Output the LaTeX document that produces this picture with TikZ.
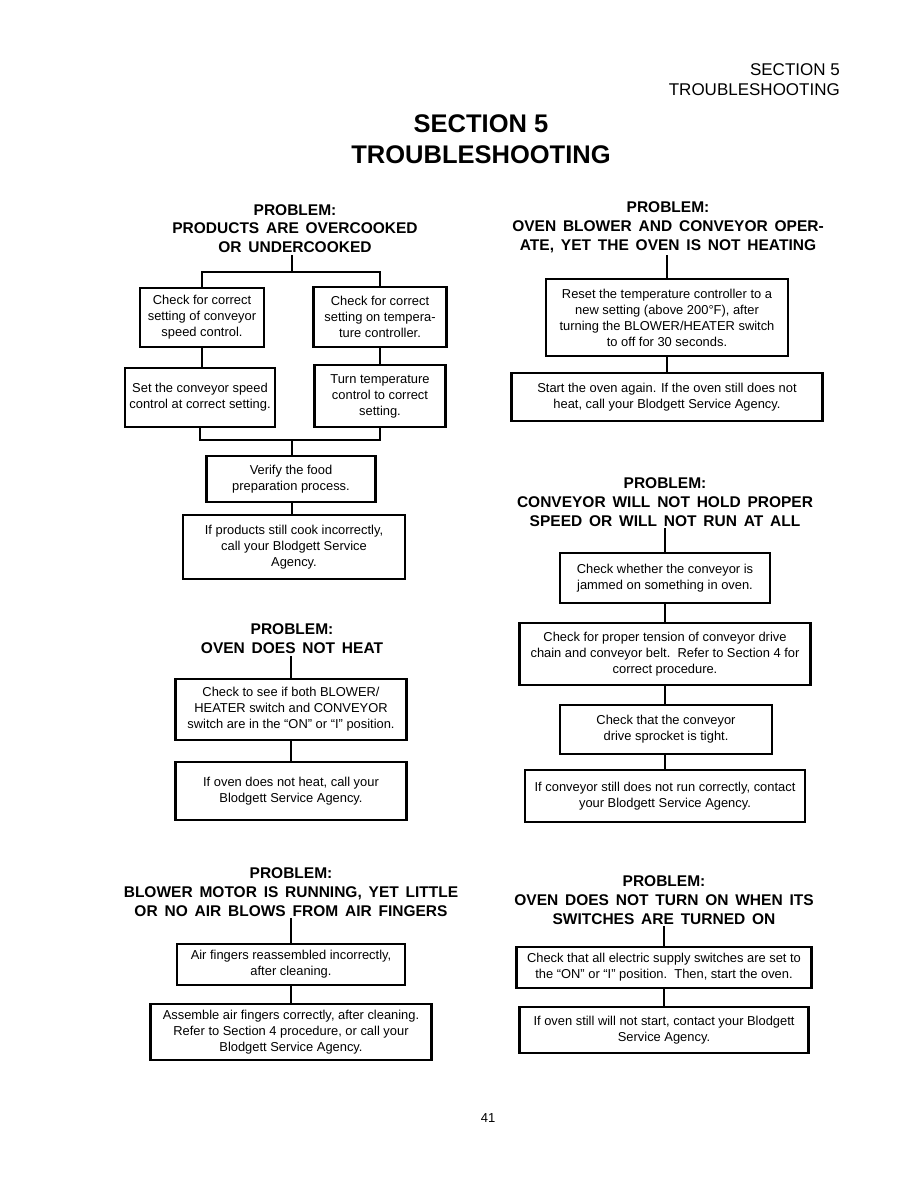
\documentclass[tikz,border=0pt]{standalone}
\usepackage{fontspec}
\setmainfont{Liberation Sans}

\newcommand{\boxfont}{\fontsize{12.9}{16}\selectfont}
\newcommand{\headfont}{\fontsize{15.5}{18.8}\selectfont\bfseries\spaceskip=0.44em plus 0.1em}

\tikzset{
  checkbox/.style={draw, line width=2.4pt, align=center, inner sep=2pt, font=\boxfont},
  problem/.style={align=center, inner sep=2pt, font=\headfont},
  link/.style={line width=1.7pt}
}

\begin{document}
\begin{tikzpicture}[x=1pt, y=-1pt]
    \useasboundingbox (0,0) rectangle (918,1188);

    % Page header and title
    \node[align=right, anchor=east, inner sep=0pt, font=\fontsize{17}{20}\selectfont] (pagehead) at (840,80) {SECTION 5\\TROUBLESHOOTING};
    \node[align=center, font=\fontsize{25.5}{31}\selectfont\bfseries] (title) at (481,139.5) {SECTION 5\\TROUBLESHOOTING};
    \node[font=\fontsize{13}{16}\selectfont] (pageno) at (488,1118) {41};

    % Products over/undercooked
    \node[problem] (p1head) at (295,228.5) {PROBLEM:\\PRODUCTS ARE OVERCOOKED\\OR UNDERCOOKED};
    \node[checkbox, minimum width=124pt, minimum height=59pt] (p1a) at (202,317.5) {Check for correct\\setting of conveyor\\speed control.};
    \node[checkbox, minimum width=133pt, minimum height=60pt] (p1b) at (380,317) {Check for correct\\setting on tempera-\\ture controller.};
    \node[checkbox, minimum width=150pt, minimum height=59pt] (p1c) at (200,397.5) {Set the conveyor speed\\control at correct setting.};
    \node[checkbox, minimum width=131pt, minimum height=62pt] (p1d) at (380,396) {Turn temperature\\control to correct\\setting.};
    \node[checkbox, minimum width=169pt, minimum height=46pt] (p1e) at (291,479) {Verify the food\\preparation process.};
    \node[checkbox, minimum width=222pt, minimum height=64pt] (p1f) at (294,547) {If products still cook incorrectly,\\call your Blodgett Service\\Agency.};
    \coordinate (p1fork) at (292,272);
    \coordinate (p1join) at (292,440);
    \draw[link] (p1fork |- p1head.south) -- (p1fork);
    \draw[link] (p1a.north) |- (p1fork) -| (p1b.north);
    \draw[link] (p1a.south) -- (p1a.south |- p1c.north);
    \draw[link] (p1b.south) -- (p1b.south |- p1d.north);
    \draw[link] (p1c.south) |- (p1join) -| (p1d.south);
    \draw[link] (p1join) -- (p1join |- p1e.north);
    \draw[link] (p1join |- p1e.south) -- (p1join |- p1f.north);

    % Oven does not heat
    \node[problem] (p2head) at (292,638.5) {PROBLEM:\\OVEN DOES NOT HEAT};
    \node[checkbox, minimum width=231pt, minimum height=61pt] (p2a) at (291,709.5) {Check to see if both BLOWER/\\HEATER switch and CONVEYOR\\switch are in the ``ON'' or ``I'' position.};
    \node[checkbox, minimum width=231pt, minimum height=58pt] (p2b) at (291,791) {If oven does not heat, call your\\Blodgett Service Agency.};
    \draw[link] (p2a.north) -- (p2a.north |- p2head.south);
    \draw[link] (p2a.south) -- (p2a.south |- p2b.north);

    % Blower motor running, no air
    \node[problem] (p3head) at (291,892) {PROBLEM:\\BLOWER MOTOR IS RUNNING, YET LITTLE\\OR NO AIR BLOWS FROM AIR FINGERS};
    \node[checkbox, minimum width=228pt, minimum height=41pt] (p3a) at (291,964.5) {Air fingers reassembled incorrectly,\\after cleaning.};
    \node[checkbox, minimum width=281pt, minimum height=56pt] (p3b) at (291,1032) {Assemble air fingers correctly, after cleaning.\\Refer to Section 4 procedure, or call your\\Blodgett Service Agency.};
    \draw[link] (p3a.north) -- (p3a.north |- p3head.south);
    \draw[link] (p3a.south) -- (p3a.south |- p3b.north);

    % Blower and conveyor run, no heat
    \node[problem] (p4head) at (668,227.5) {PROBLEM:\\OVEN BLOWER AND CONVEYOR OPER-\\ATE, YET THE OVEN IS NOT HEATING};
    \node[checkbox, minimum width=242pt, minimum height=77pt] (p4a) at (667,317.5) {Reset the temperature controller to a\\new setting (above 200°F), after\\turning the BLOWER/HEATER switch\\to off for 30 seconds.};
    \node[checkbox, minimum width=311pt, minimum height=48pt] (p4b) at (667,397) {Start the oven again. If the oven still does not\\heat, call your Blodgett Service Agency.};
    \draw[link] (p4a.north) -- (p4a.north |- p4head.south);
    \draw[link] (p4a.south) -- (p4a.south |- p4b.north);

    % Conveyor speed
    \node[problem] (p5head) at (665,502) {PROBLEM:\\CONVEYOR WILL NOT HOLD PROPER\\SPEED OR WILL NOT RUN AT ALL};
    \node[checkbox, minimum width=210pt, minimum height=50pt] (p5a) at (665,578) {Check whether the conveyor is\\jammed on something in oven.};
    \node[checkbox, minimum width=291pt, minimum height=62pt] (p5b) at (665,654) {Check for proper tension of conveyor drive\\chain and conveyor belt.\ \ Refer to Section 4 for\\correct procedure.};
    \node[checkbox, minimum width=212pt, minimum height=49pt] (p5c) at (666,729.5) {Check that the conveyor\\drive sprocket is tight.};
    \node[checkbox, minimum width=280pt, minimum height=52pt] (p5d) at (665,796) {If conveyor still does not run correctly, contact\\your Blodgett Service Agency.};
    \draw[link] (p5a.north) -- (p5a.north |- p5head.south);
    \draw[link] (p5a.south) -- (p5a.south |- p5b.north);
    \draw[link] (p5a.south |- p5b.south) -- (p5a.south |- p5c.north);
    \draw[link] (p5a.south |- p5c.south) -- (p5a.south |- p5d.north);

    % Oven does not turn on
    \node[problem] (p6head) at (664,900) {PROBLEM:\\OVEN DOES NOT TURN ON WHEN ITS\\SWITCHES ARE TURNED ON};
    \node[checkbox, minimum width=295pt, minimum height=41pt] (p6a) at (664,967.5) {Check that all electric supply switches are set to\\the ``ON'' or ``I'' position.\ \ Then, start the oven.};
    \node[checkbox, minimum width=289pt, minimum height=46pt] (p6b) at (664,1030) {If oven still will not start, contact your Blodgett\\Service Agency.};
    \draw[link] (p6a.north) -- (p6a.north |- p6head.south);
    \draw[link] (p6a.south) -- (p6a.south |- p6b.north);
\end{tikzpicture}
\end{document}
